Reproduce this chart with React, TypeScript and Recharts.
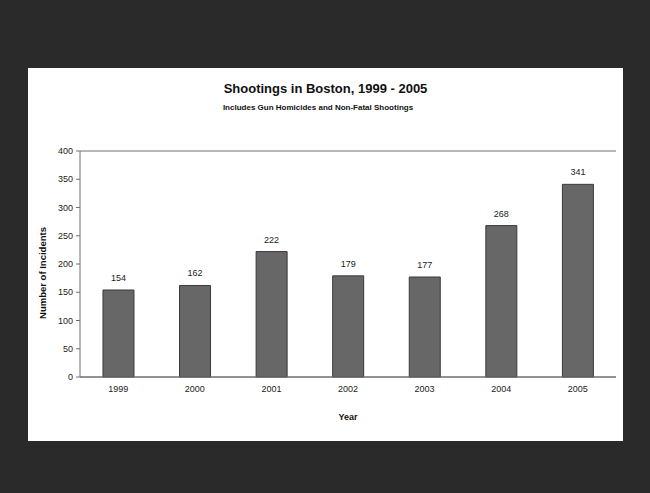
import React from 'react';
import { BarChart, Bar, XAxis, YAxis, CartesianGrid, LabelList } from 'recharts';

const years = ['1999', '2000', '2001', '2002', '2003', '2004', '2005'];
const shootings = [154, 162, 222, 179, 177, 268, 341];
const yTicks = [0, 50, 100, 150, 200, 250, 300, 350, 400];

const data = years.map((y, i) => ({ year: y, value: shootings[i] }));

const FONT = '"Liberation Sans", Arial, sans-serif';

export default function App() {
  return (
    <div style={{ position: 'absolute', left: 0, top: 0, width: 650, height: 493, background: '#2a2a2a', fontFamily: FONT }}>
      <div style={{ position: 'absolute', left: 28, top: 68, width: 595, height: 373, background: '#ffffff' }}>
        <BarChart
          width={595}
          height={373}
          data={data}
          margin={{ top: 83, right: 7, left: 0, bottom: 34 }}
          barCategoryGap="30%"
        >
          <CartesianGrid vertical={false} stroke="#6e6e6e" strokeWidth={1} />
          <XAxis
            dataKey="year"
            height={30}
            tickLine={false}
            tickSize={0}
            tickMargin={9}
            axisLine={{ stroke: '#6e6e6e' }}
            tick={{ fontSize: 9, fill: '#222', fontFamily: FONT }}
          />
          <YAxis
            yAxisId="left"
            width={52}
            domain={[0, 400]}
            ticks={yTicks}
            interval={0}
            tickSize={4}
            tickMargin={3}
            tickLine={{ stroke: '#6e6e6e' }}
            axisLine={{ stroke: '#6e6e6e' }}
            tick={{ fontSize: 9, fill: '#222', fontFamily: FONT }}
          />
          <YAxis
            yAxisId="right"
            orientation="right"
            width={0}
            domain={[0, 400]}
            tick={false}
            tickLine={false}
            axisLine={{ stroke: '#9a9a9a' }}
          />
          <Bar yAxisId="left" dataKey="value" fill="#676767" stroke="#3a3a3a" strokeWidth={1} isAnimationActive={false}>
            <LabelList dataKey="value" position="top" offset={9} style={{ fontSize: 9, fill: '#222', fontFamily: FONT }} />
          </Bar>
        </BarChart>
        <div style={{ position: 'absolute', left: 0, top: 13, width: 595, textAlign: 'center', fontSize: 13, fontWeight: 'bold', color: '#111', lineHeight: '16px' }}>
          Shootings in Boston, 1999 - 2005
        </div>
        <div style={{ position: 'absolute', left: 0, top: 35, width: 580, textAlign: 'center', fontSize: 8, fontWeight: 'bold', color: '#111', lineHeight: '10px' }}>
          Includes Gun Homicides and Non-Fatal Shootings
        </div>
        <div style={{ position: 'absolute', left: 0, top: 344, width: 640, textAlign: 'center', fontSize: 9, fontWeight: 'bold', color: '#111', lineHeight: '10px' }}>
          Year
        </div>
        <div style={{ position: 'absolute', left: 15, top: 205, width: 0, height: 0 }}>
          <div style={{ position: 'absolute', left: -60, top: -5, width: 120, textAlign: 'center', fontSize: 9.5, fontWeight: 'bold', color: '#111', lineHeight: '10px', transform: 'rotate(-90deg)' }}>
            Number of Incidents
          </div>
        </div>
      </div>
    </div>
  );
}
